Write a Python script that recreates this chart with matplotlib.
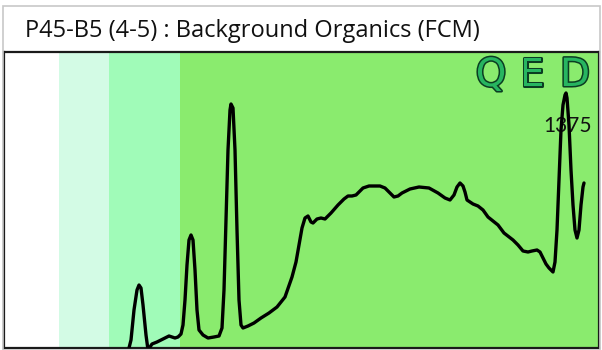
import matplotlib
matplotlib.use('Agg')
import matplotlib.pyplot as plt
import matplotlib.patheffects as pe
from matplotlib.patches import Rectangle

# Trace (x = position along run, y = detector response)
trace_x = [124, 127, 130, 133, 135, 137, 139, 142, 144, 148, 153, 157, 161, 165,
           168, 171, 174, 177, 179, 181, 183, 185, 187, 189, 191, 193, 195, 199,
           204, 210, 215, 218, 220, 222, 224, 226, 227, 229, 231, 233, 235, 237,
           239, 244, 250, 257, 265, 273, 281, 288, 292, 295, 298, 301, 304, 307,
           309, 313, 317, 321, 327, 334, 340, 344, 348, 352, 359, 365, 371, 376,
           381, 386, 390, 394, 398, 406, 415, 425, 434, 441, 446, 450, 453, 456,
           459, 461, 463, 469, 474, 479, 484, 489, 494, 500, 509, 514, 519, 524,
           528, 533, 536, 539, 542, 545, 549, 551, 553, 555, 557, 559, 561, 562,
           563, 565, 567, 569, 571, 573, 575, 577, 579, 580]
trace_y = [-4, 8, 38, 58, 63, 60, 43, 13, -2, 4, 6, 8, 10, 12, 11, 10, 11, 14,
           23, 48, 83, 108, 113, 108, 78, 38, 18, 13, 10, 11, 12, 20, 58, 128,
           198, 238, 244, 240, 198, 118, 48, 23, 20, 22, 25, 30, 35, 41, 51, 71,
           86, 103, 120, 130, 132, 126, 125, 129, 130, 129, 135, 143, 149, 152,
           152, 153, 160, 162, 162, 162, 160, 155, 151, 152, 155, 159, 161, 160,
           155, 150, 148, 153, 161, 165, 162, 156, 148, 144, 142, 138, 131, 127,
           123, 115, 108, 103, 97, 96, 97, 98, 96, 90, 84, 80, 76, 86, 118, 168,
           218, 243, 253, 255, 250, 223, 178, 143, 118, 110, 118, 143, 161, 165]

# Shaded regions along the run: (start, end, colour)
band_edges = [0, 55, 105, 176, 595]
band_colors = ['#ffffff', '#d3fbe5', '#a0fbb8', '#8aeb6e']

title = 'P45-B5 (4-5) : Background Organics (FCM)'
peak_label = '1375'
logo_letters = ['Q', 'E', 'D']

fig = plt.figure(figsize=(6.02, 3.5), dpi=100)
fig.patch.set_facecolor('white')

# thin grey outer frame
fig.add_artist(Rectangle((3 / 602, 0), 597 / 602, 344 / 350, transform=fig.transFigure,
                         fill=False, edgecolor='#c8c8c8', linewidth=1.2))

ax = fig.add_axes([4 / 602, 2 / 350, 595 / 602, 296 / 350])
ax.set_xlim(band_edges[0], band_edges[-1])
ax.set_ylim(0, 296)

for i, col in enumerate(band_colors):
    ax.axvspan(band_edges[i], band_edges[i + 1], color=col, linewidth=0, zorder=0)

ax.plot(trace_x, trace_y, color='black', linewidth=2.4, solid_joinstyle='round',
        solid_capstyle='round', zorder=3)

ax.set_xticks([])
ax.set_yticks([])
for sp in ax.spines.values():
    sp.set_color('#1a1a1a')
    sp.set_linewidth(1.6)

# peak annotation
ax.text(564, 222, peak_label, fontsize=15, family='Lato', ha='center', va='center',
        color='#111111', zorder=2)

# logo letters in the corner
logo_x = [487, 528, 571]
for lx, letter in zip(logo_x, logo_letters):
    ax.text(lx, 273, letter, fontsize=28, family='DejaVu Sans', ha='center', va='center',
            color='#27b560', zorder=2,
            path_effects=[pe.Stroke(linewidth=2.2, foreground='#0b3d22'), pe.Normal()])

fig.text(25 / 602, (350 - 37) / 350, title, fontsize=17, family='Open Sans',
         ha='left', va='baseline', color='#111111')

fig.savefig('out.png', dpi=100)
